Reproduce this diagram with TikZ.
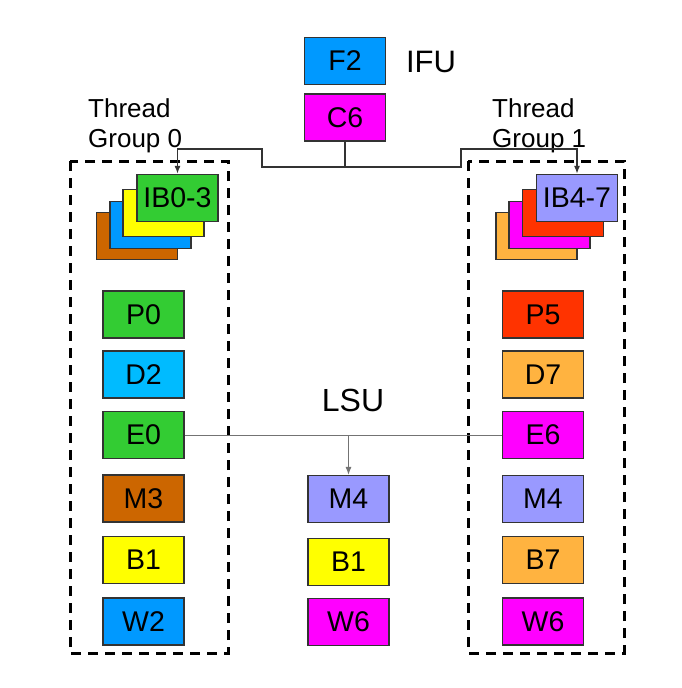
\documentclass[tikz,border=0pt]{standalone}
\usepackage{fontspec}
\setmainfont{Liberation Sans}
\usetikzlibrary{arrows.meta}
\definecolor{cgreen}{HTML}{33CC33}
\definecolor{cblue}{HTML}{0099FF}
\definecolor{clblue}{HTML}{00BBFF}
\definecolor{cyellow}{HTML}{FFFF00}
\definecolor{cbrown}{HTML}{CC6600}
\definecolor{cmag}{HTML}{FF00FF}
\definecolor{cred}{HTML}{FF3300}
\definecolor{corange}{HTML}{FFB340}
\definecolor{clav}{HTML}{9999FF}
\definecolor{cborder}{HTML}{333333}
\tikzset{
  stage/.style={draw=cborder, line width=1.2pt, minimum width=81pt, minimum height=47pt, inner sep=0pt,
    font=\fontsize{28.5}{30}\selectfont},
  grp/.style={draw=black, line width=3pt, dash pattern=on 10pt off 7pt},
  lbl/.style={font=\fontsize{31}{33}\selectfont, inner sep=0pt},
  tg/.style={font=\fontsize{26}{30}\selectfont, align=left, inner sep=0pt, anchor=north west},
  fetch/.style={draw=black!80, line width=1.4pt},
  lsu/.style={draw=black!55, line width=1pt},
  tip/.style={-{Latex[length=8pt,width=6pt]}}
}
\begin{document}
\begin{tikzpicture}[x=1pt,y=-1pt]
\useasboundingbox (0,0) rectangle (681,688);
% IFU
\node[stage, fill=cblue] (F2) at (345,61) {F2};
\node[stage, fill=cmag] (C6) at (345,117.5) {C6};
\node[lbl] (ifu) at (431,62) {IFU};
% thread group labels
\node[tg] (tg0) at (88,98) {Thread\\Group 0};
\node[tg] (tg1) at (492,98) {Thread\\Group 1};
% dashed groups
\draw[grp] (70,161) rectangle (228,653);
\draw[grp] (468,161) rectangle (624,653);
% left stack
\node[stage, fill=cbrown] (s03) at (137,236) {};
\node[stage, fill=cblue] (s02) at (150.5,225) {};
\node[stage, fill=cyellow] (s01) at (163.5,213) {};
\node[stage, fill=cgreen] (IB03) at (177.5,198) {IB0-3};
% right stack
\node[stage, fill=corange] (s13) at (536.5,236) {};
\node[stage, fill=cmag] (s12) at (549.5,225) {};
\node[stage, fill=cred] (s11) at (563,213) {};
\node[stage, fill=clav] (IB47) at (577,198) {IB4-7};
% left column
\node[stage, fill=cgreen] (P0) at (143.5,314.5) {P0};
\node[stage, fill=clblue] (D2) at (143.5,374.5) {D2};
\node[stage, fill=cgreen] (E0) at (143.5,435) {E0};
\node[stage, fill=cbrown] (M3) at (143.5,498.5) {M3};
\node[stage, fill=cyellow] (B1l) at (143.5,560) {B1};
\node[stage, fill=cblue] (W2) at (143.5,621.5) {W2};
% middle column
\node[stage, fill=clav] (M4m) at (348.5,499) {M4};
\node[stage, fill=cyellow] (B1m) at (348.5,562) {B1};
\node[stage, fill=cmag] (W6m) at (348.5,622) {W6};
\node[lbl, font=\fontsize{32}{34}\selectfont] (lsu) at (353,400) {LSU};
% right column
\node[stage, fill=cred] (P5) at (543,314.5) {P5};
\node[stage, fill=corange] (D7) at (543,374.5) {D7};
\node[stage, fill=cmag] (E6) at (543,435) {E6};
\node[stage, fill=clav] (M4r) at (543,499) {M4};
\node[stage, fill=corange] (B7) at (543,560) {B7};
\node[stage, fill=cmag] (W6r) at (543,621.5) {W6};
% fetch connectors
\coordinate (jC) at (345,167);
\coordinate (jL) at (262,167);
\coordinate (jR) at (461,167);
\coordinate (tL) at (262,149);
\coordinate (tR) at (461,149);
\draw[fetch] (C6.south) -- (jC);
\draw[fetch, tip] (jC) -- (jL) -- (tL) -| (IB03.north);
\draw[fetch, tip] (jC) -- (jR) -- (tR) -| (IB47.north);
% LSU connectors
\draw[lsu] (E0.east) -- (E6.west);
\draw[lsu, tip] (E0.east -| M4m.north) -- (M4m.north);
\end{tikzpicture}
\end{document}
